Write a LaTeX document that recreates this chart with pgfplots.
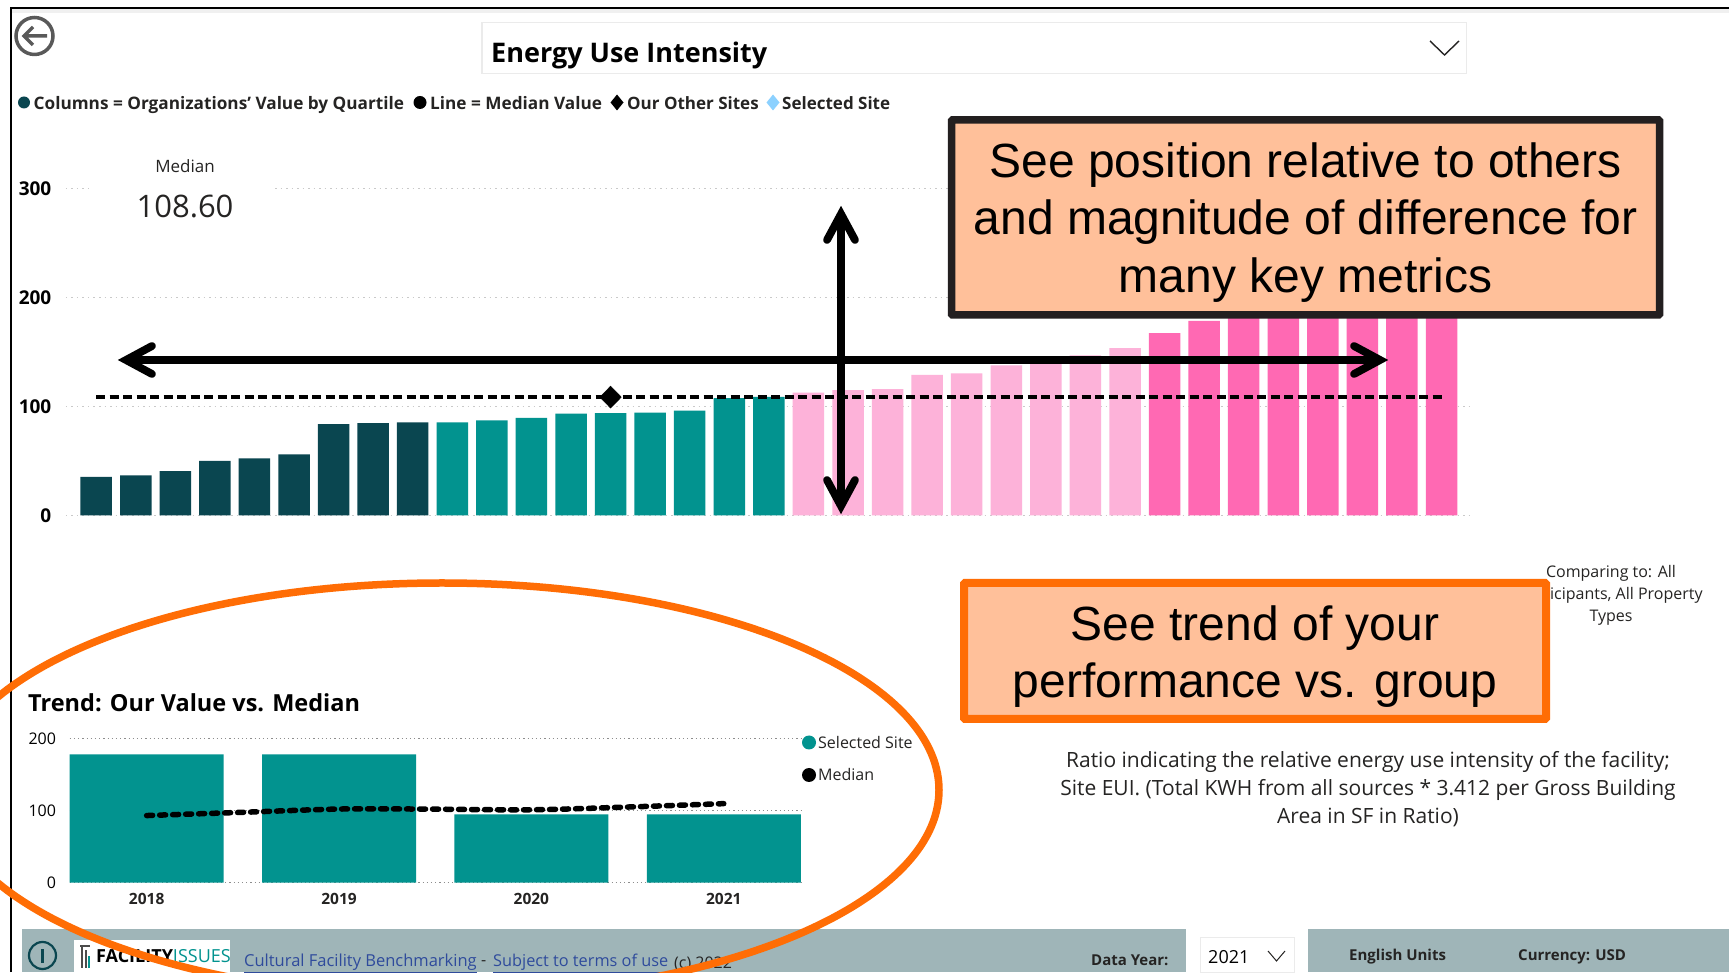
\documentclass[border=0pt]{standalone}
\usepackage{pgfplots}
\usepackage{fontspec}
\pgfplotsset{compat=1.18}
\setmainfont{Open Sans}
\newfontfamily\arialf{Liberation Sans}
\definecolor{qdark}{HTML}{0A4650}
\definecolor{qteal}{HTML}{02938F}
\definecolor{qlpink}{HTML}{FDB2D9}
\definecolor{qpink}{HTML}{FF69B3}
\definecolor{gridc}{HTML}{C9C9C9}
\definecolor{txt}{HTML}{252423}
\definecolor{boxfill}{HTML}{FFC09A}
\definecolor{boxdark}{HTML}{231F20}
\definecolor{orangeb}{HTML}{FF6D05}
\definecolor{footer}{HTML}{9FB5B8}
\definecolor{linkb}{HTML}{2F4B9C}
\newcommand{\fs}[1]{\fontsize{#1}{#1}\selectfont}
\begin{document}
\begin{tikzpicture}[x=1pt,y=1pt]
\useasboundingbox (0pt,0pt) rectangle (1729pt,972pt);
\clip (0pt,0pt) rectangle (1729pt,972pt);
\fill[white] (0pt,0pt) rectangle (1729pt,972pt);

% main quartile chart
\begin{axis}[
  at={(66pt,456.5pt)}, anchor=south west, scale only axis,
  width=1406pt, height=327pt,
  xmin=-0.763, xmax=34.77, ymin=0, ymax=300,
  ytick={0,100,200,300}, xtick=\empty,
  ymajorgrids, grid style={gridc, line width=1.2pt, dash pattern=on 1.5pt off 4pt},
  axis line style={draw=none}, tick style={draw=none},
  clip=false,
  ybar, bar width=31.5pt, bar shift=0pt,
  /pgf/number format/assume math mode=true,
  yticklabel style={font=\bfseries\fs{19}, text=black, inner sep=0pt, xshift=-14.5pt, anchor=east},
]
\addplot[fill=qdark, draw=none] coordinates {(0,35.4)(1,36.7)(2,40.8)(3,50)(4,52.5)(5,56)(6,83.9)(7,84.8)(8,85.4)};
\addplot[fill=qteal, draw=none] coordinates {(9,85.4)(10,87.3)(11,89.6)(12,93.4)(13,94)(14,94.3)(15,96.2)(16,107.6)(17,108.9)};
\addplot[fill=qlpink, draw=none] coordinates {(18,112.7)(19,115)(20,116)(21,129)(22,130.4)(23,137.7)(24,139)(25,146.8)(26,153.5)};
\addplot[fill=qpink, draw=none] coordinates {(27,167.4)(28,178.5)(29,185)(30,190)(31,195)(32,205)(33,225)(34,280)};
\addplot[sharp plot, black, line width=3.5pt, dash pattern=on 9pt off 4.5pt, forget plot] coordinates {(0,108.6)(34,108.6)};
\addplot[only marks, mark=diamond*, mark size=11pt, black, mark options={xscale=1.3}, forget plot] coordinates {(13,108.6)};
\end{axis}

% trend chart
\begin{axis}[
  at={(69.7pt,89.3pt)}, anchor=south west, scale only axis,
  width=731pt, height=144.4pt,
  xmin=-0.4, xmax=3.4, ymin=0, ymax=200,
  ytick={0,100,200}, xtick={0,1,2,3}, xticklabels={2018,2019,2020,2021},
  ymajorgrids, grid style={gridc!70!black, line width=1.2pt, dash pattern=on 1.2pt off 3pt},
  axis line style={draw=none}, tick style={draw=none},
  clip=false,
  ybar, bar width=154pt, bar shift=0pt,
  /pgf/number format/assume math mode=true,
  yticklabel style={font=\fs{16}, text=black, inner sep=0pt, xshift=-13.5pt, anchor=east},
  xticklabel style={font=\bfseries\fs{15.5}, text=txt, inner sep=0pt, yshift=-6pt},
]
\addplot[fill=qteal, draw=none] coordinates {(0,177.8)(1,177.8)(2,94.7)(3,94.7)};
\addplot[sharp plot, smooth, black, line width=5.5pt, line cap=round, dash pattern=on 6pt off 7pt, forget plot] coordinates {(0,93)(0.5,97.5)(1,102)(1.43,102)(2,101)(2.5,104.8)(3,109.5)};
\end{axis}

\begin{scope}[x=1pt,y=-1pt,shift={(0pt,972pt)}]
% frame
\fill[black!6] (12,9) rectangle (1729,13);
\draw[black, line width=2pt] (10.5,972) -- (10.5,8) -- (1729,8);

% back icon
\draw[black!65, line width=3.5pt] (34.5,36) circle (18.5);
\draw[black!65, line width=3.5pt] (47,36) -- (24,36) (33,27) -- (24,36) -- (33,45);

% dropdown
\draw[black!8, line width=1.5pt] (482,22.5) rectangle (1466.5,73.3);
\node[anchor=base west, inner sep=0pt, text=black, font=\bfseries\fs{27}] at (491,62.5) {Energy Use Intensity};
\draw[txt, line width=1.4pt] (1430,41) -- (1444.5,55) -- (1459,41);

% legend row
\fill[qdark] (24,102.5) circle (6);
\node[anchor=base west, inner sep=0pt, text=txt, font=\bfseries\fs{17.2}] at (33.5,109.5) {Columns = Organizations' Value by Quartile};
\fill[black] (420,102.5) circle (6.5);
\node[anchor=base west, inner sep=0pt, text=txt, font=\bfseries\fs{17.2}] at (430,109.5) {Line = Median Value};
\fill[black] (617,94.5) -- (623.5,102.5) -- (617,110.5) -- (610.5,102.5) -- cycle;
\node[anchor=base west, inner sep=0pt, text=txt, font=\bfseries\fs{17}] at (627,109.5) {Our Other Sites};
\fill[blue!40!cyan!45!white] (773,94.5) -- (779.5,102.5) -- (773,110.5) -- (766.5,102.5) -- cycle;
\node[anchor=base west, inner sep=0pt, text=txt, font=\bfseries\fs{17}] at (782,109.5) {Selected Site};

% median card
\fill[white] (91,150) rectangle (275,225);
\node[text=txt, inner sep=0pt, font=\fs{17}] at (185,166) {Median};
\node[text=txt, inner sep=0pt, font=\fs{31}] at (185,206.5) {108.60};

% right-hand texts
\node[align=center, text=txt, inner sep=0pt, font=\fontsize{16}{22}\selectfont] at (1611,595.5) {Comparing to: All\\Participants, All Property\\Types};
\node[align=center, text=txt, inner sep=0pt, font=\fontsize{21}{28}\selectfont] at (1368,789) {Ratio indicating the relative energy use intensity of the facility;\\Site EUI. (Total KWH from all sources * 3.412 per Gross Building\\Area in SF in Ratio)};

% trend title + legend
\node[anchor=west, inner sep=0pt, text=black, font=\bfseries\fs{23.5}] at (28,703) {Trend: Our Value vs. Median};
\fill[qteal] (809,742.5) circle (7);
\node[anchor=west, inner sep=0pt, text=txt, font=\fs{16}] at (818,742.5) {Selected Site};
\fill[black] (809,775) circle (7);
\node[anchor=west, inner sep=0pt, text=txt, font=\fs{16}] at (818,775) {Median};

% footer
\fill[footer] (22,929) rectangle (1186,972);
\fill[footer] (1308,929) rectangle (1729,972);
\draw[black!8, fill=white, line width=1pt] (1200,937) rectangle (1294,972);
\node[anchor=west, inner sep=0pt, text=black, font=\fs{18}] at (1208,957) {2021};
\draw[txt, line width=1pt] (1268,951) -- (1276.5,961) -- (1285,951);
\node[anchor=west, inner sep=0pt, text=txt, font=\bfseries\fs{15}] at (1091,960) {Data Year:};
\node[anchor=west, inner sep=0pt, text=txt, font=\bfseries\fs{15}] at (1349,957) {English Units};
\node[anchor=west, inner sep=0pt, text=txt, font=\bfseries\fs{15}] at (1518,957) {Currency: USD};
\draw[qdark, line width=2.2pt] (42.5,955.5) circle (13.5);
\draw[qdark, line width=2.4pt] (42.5,949) -- (42.5,963);
\fill[white] (74,940) rectangle (230,972);
\draw[black!70, line width=1.2pt] (80,946) -- (90,946) (82,946) -- (82,968) (86,950) -- (86,968);
\draw[qteal, line width=1.2pt] (89,956) -- (89,968);
\node[anchor=west, inner sep=0pt, font=\fs{18}] at (96,956.5) {\textbf{\textcolor{black}{FACILITY}}\textcolor{qteal}{ISSUES}};
\node[anchor=west, inner sep=0pt, text=linkb, font=\fs{16.5}] at (244,963.5) {\underline{Cultural Facility Benchmarking}};
\node[anchor=west, inner sep=0pt, text=txt, font=\fs{16}] at (481,963.5) {-};
\node[anchor=west, inner sep=0pt, text=linkb, font=\fs{16.3}] at (493,963.5) {\underline{Subject to terms of use}};
\node[anchor=west, inner sep=0pt, text=txt, font=\fs{16}] at (674,963.5) {(c) 2022};

% big arrows
\draw[black, line width=7.8pt] (126,360) -- (1380,360);
\draw[black, line width=7.8pt, line cap=round, miter limit=10] (152,346) -- (126,360) -- (152,374);
\draw[black, line width=7.8pt, line cap=round, miter limit=10] (1354,346) -- (1380,360) -- (1354,374);
\draw[black, line width=7.8pt] (841,214) -- (841,506);
\draw[black, line width=7.8pt, line cap=round, miter limit=10] (827,240) -- (841,214) -- (855,240);
\draw[black, line width=7.8pt, line cap=round, miter limit=10] (827,480) -- (841,506) -- (855,480);

% call-outs
\draw[boxdark, fill=boxfill, line width=7.5pt, rounded corners=1pt] (951.5,120) rectangle (1659.5,315);
\node[align=center, text=black, inner sep=0pt, font=\arialf\fontsize{48}{57.5}\selectfont] at (1305.5,222.5) {See position relative to others\\and magnitude of difference for\\many key metrics};
\draw[orangeb, fill=boxfill, line width=8pt, rounded corners=1pt] (964,583) rectangle (1546,719);
\node[align=center, text=black, inner sep=0pt, font=\arialf\fontsize{48}{57.5}\selectfont] at (1255,656.5) {See trend of your\\performance vs. group};

% ellipse
\draw[orangeb, line width=7.5pt] (442,790) ellipse [x radius=497, y radius=207];
\end{scope}
\end{tikzpicture}
\end{document}
